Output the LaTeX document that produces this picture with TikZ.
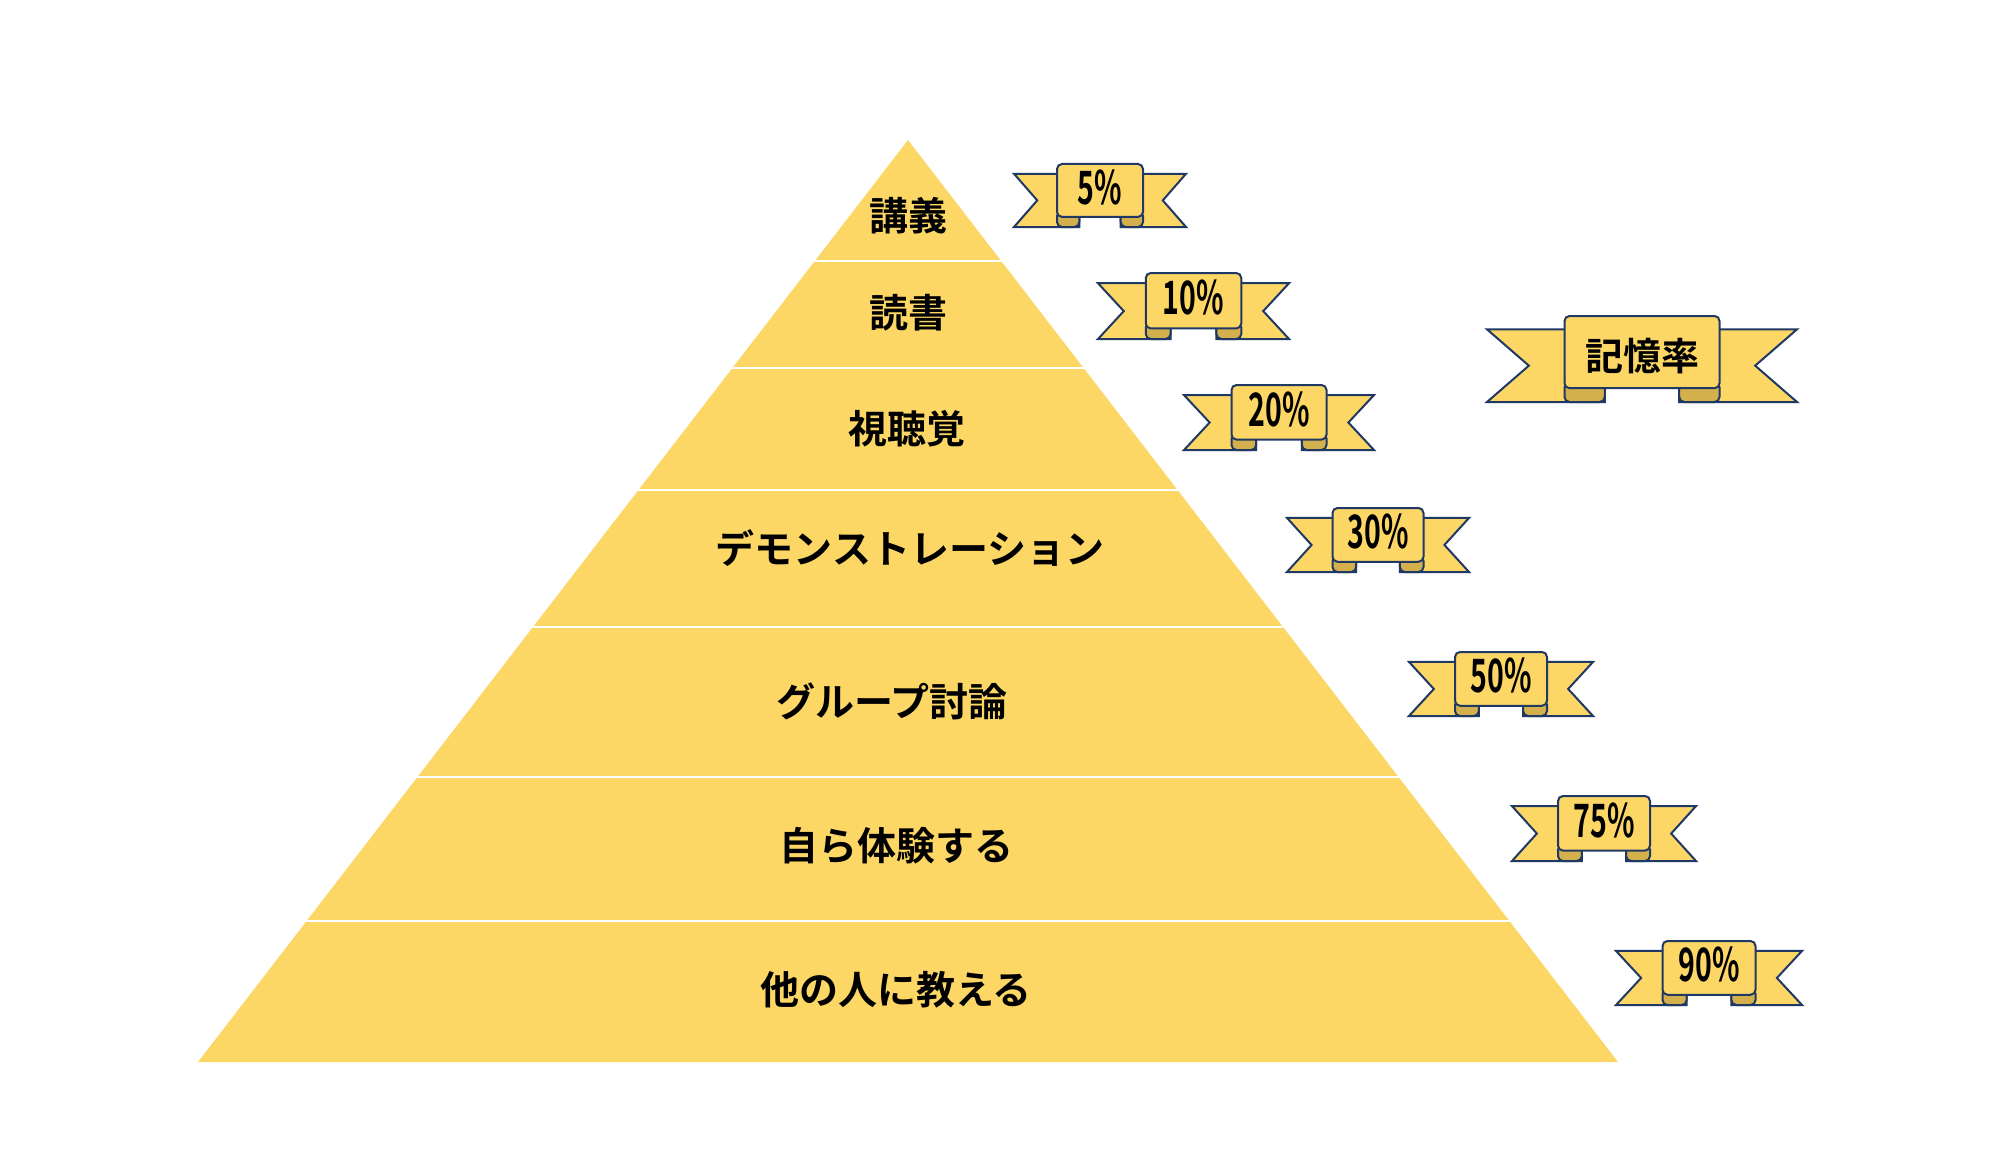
\documentclass[tikz,border=0pt]{standalone}
\usepackage{fontspec}
\newfontfamily\jpb{Noto Sans CJK JP Bold}
\newfontfamily\pctf[FakeStretch=0.62]{Noto Sans CJK JP Bold}
\definecolor{pyr}{HTML}{FCD766}
\definecolor{navy}{HTML}{1F3864}
\definecolor{foldc}{HTML}{D4B04C}
\tikzset{
  rib/.style={fill=pyr, draw=navy, line width=1pt, line join=miter},
  foldst/.style={fill=foldc, draw=navy, line width=1pt},
  lbl/.style={font=\jpb\fontsize{19.5pt}{22pt}\selectfont, text=black, inner sep=0pt},
  pct/.style={font=\pctf\fontsize{23pt}{25pt}\selectfont, text=black, inner sep=0pt},
  kanjirib/.style={font=\jpb\fontsize{19pt}{22pt}\selectfont, text=black, inner sep=0pt},
}
\newcommand\ribbon[8]{% #1 name, #2 cx, #3 top, #4 W, #5 H, #6 text ratio, #7 style, #8 text
  \pgfmathsetmacro\rbxa{#2-#4/2}
  \pgfmathsetmacro\rbxb{#2+#4/2}
  \pgfmathsetmacro\rbfl{#2-0.25*#4}
  \pgfmathsetmacro\rbfr{#2+0.25*#4}
  \pgfmathsetmacro\rbtt{#3+0.155*#5}
  \pgfmathsetmacro\rbtb{#3+#5}
  \pgfmathsetmacro\rbfb{#3+0.84*#5}
  \pgfmathsetmacro\rbmid{(\rbtt+\rbtb)/2}
  \pgfmathsetmacro\rbn{0.135*#4}
  \pgfmathsetmacro\rbf{0.13*#4}
  \draw[rib] (\rbxa,\rbtt) -- (\rbfl+\rbf,\rbtt) -- (\rbfl+\rbf,\rbtb) -- (\rbxa,\rbtb) -- (\rbxa+\rbn,\rbmid) -- cycle;
  \draw[rib] (\rbxb,\rbtt) -- (\rbfr-\rbf,\rbtt) -- (\rbfr-\rbf,\rbtb) -- (\rbxb,\rbtb) -- (\rbxb-\rbn,\rbmid) -- cycle;
  \draw[foldst, rounded corners=2.5pt] (\rbfl,\rbfb-6) rectangle (\rbfl+\rbf,\rbtb);
  \draw[foldst, rounded corners=2.5pt] (\rbfr-\rbf,\rbfb-6) rectangle (\rbfr,\rbtb);
  \draw[rib, rounded corners=2.5pt] (\rbfl,#3) rectangle (\rbfr,\rbfb);
  \node[#7] (#1) at (#2,#3+#6*#5) {#8};
}
\begin{document}
\begin{tikzpicture}[x=0.5pt,y=-0.5pt]
\useasboundingbox (0,0) rectangle (1998,1172);
\fill[white] (0,0) rectangle (1998,1172);
% pyramid
\coordinate (apex) at (908,140);
\coordinate (bl) at (198,1062);
\coordinate (br) at (1618,1062);
\fill[pyr] (apex) -- (bl) -- (br) -- cycle;
\begin{scope}
  \clip (apex) -- (bl) -- (br) -- cycle;
  \foreach \yy in {261,368,490,627,777,921}
    \draw[white, line width=1pt] (0,\yy) -- (1998,\yy);
\end{scope}
% pyramid labels
\node[lbl] (l1) at (908,216) {講義};
\node[lbl] (l2) at (908,313) {読書};
\node[lbl] (l3) at (907,429) {視聴覚};
\node[lbl] (l4) at (910,548) {デモンストレーション};
\node[lbl] (l5) at (892,701) {グループ討論};
\node[lbl] (l6) at (896,846) {自ら体験する};
\node[lbl] (l7) at (896,990) {他の人に教える};
% ribbons
\ribbon{r1}{1100}{164}{172}{63}{0.37}{pct}{5\%}
\ribbon{r2}{1193.5}{273}{191}{66}{0.37}{pct}{10\%}
\ribbon{r3}{1279}{385}{190}{65}{0.37}{pct}{20\%}
\ribbon{r4}{1378}{508}{182}{64}{0.37}{pct}{30\%}
\ribbon{r5}{1501}{652}{184}{64}{0.37}{pct}{50\%}
\ribbon{r6}{1604}{796}{184}{65}{0.37}{pct}{75\%}
\ribbon{r7}{1709}{941}{186}{64}{0.37}{pct}{90\%}
\ribbon{rk}{1642}{316}{310}{86}{0.47}{kanjirib}{記憶率}
\end{tikzpicture}
\end{document}
